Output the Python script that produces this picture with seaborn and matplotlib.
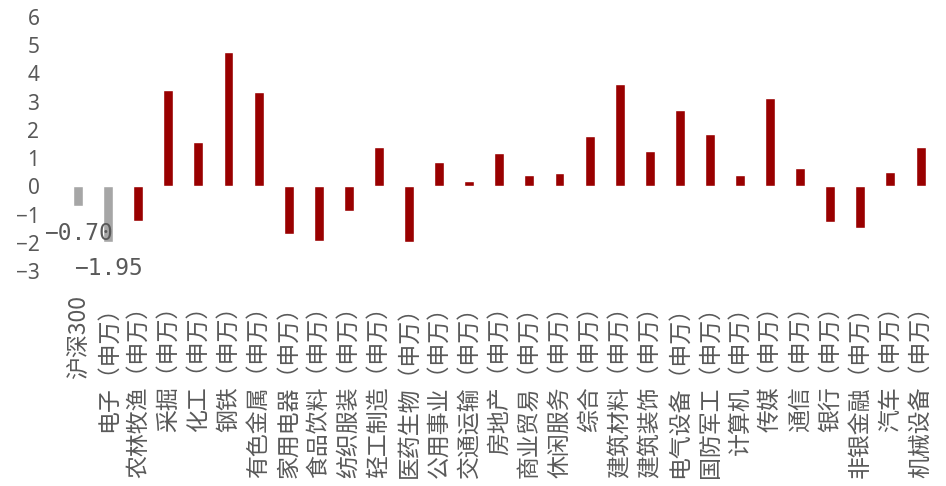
import matplotlib
matplotlib.use("Agg")
import matplotlib.pyplot as plt
import seaborn as sns
import pandas as pd

# Data
industries = ["沪深300", "电子（申万）", "农林牧渔（申万）", "采掘（申万）", "化工（申万）",
              "钢铁（申万）", "有色金属（申万）", "家用电器（申万）", "食品饮料（申万）",
              "纺织服装（申万）", "轻工制造（申万）", "医药生物（申万）", "公用事业（申万）",
              "交通运输（申万）", "房地产（申万）", "商业贸易（申万）", "休闲服务（申万）",
              "综合（申万）", "建筑材料（申万）", "建筑装饰（申万）", "电气设备（申万）",
              "国防军工（申万）", "计算机（申万）", "传媒（申万）", "通信（申万）",
              "银行（申万）", "非银金融（申万）", "汽车（申万）", "机械设备（申万）"]
values = [-0.70, -1.95, -1.23, 3.43, 1.59, 4.77, 3.36, -1.70, -1.93, -0.88,
          1.38, -1.98, 0.85, 0.21, 1.20, 0.42, 0.46, 1.77, 3.64, 1.24,
          2.72, 1.84, 0.39, 3.14, 0.64, -1.27, -1.48, 0.50, 1.41]
labelled = [-0.70, -1.95]

data = pd.DataFrame({"industry": industries, "value": values})

sns.set_theme(style="white")
plt.rcParams["font.family"] = ["Noto Sans CJK SC", "DejaVu Sans"]

grey_text = "#595959"
colors = ["#A6A6A6", "#A6A6A6"] + ["#990000"] * (len(industries) - 2)

fig = plt.figure(figsize=(9.46, 4.86), dpi=100)
ax = fig.add_axes([0.0666, 0.442, 0.9224, 0.523])

sns.barplot(data=data, x="industry", y="value", hue="industry",
            palette=colors, legend=False, width=0.33, saturation=1, ax=ax)

# value labels for the two grey bars
for i, v in enumerate(labelled):
    ax.text(i, v - 0.95, f"{v:.2f}".replace("-", "\u2212"), ha="center", va="center",
            fontsize=16.5, color=grey_text, family="DejaVu Sans Mono")

ax.set_ylim(-3, 6)
ax.set_xlim(-0.5, len(industries) - 0.5)
ax.set_yticks(range(-3, 7))
ax.set_xlabel("")
ax.set_ylabel("")
ax.tick_params(axis="y", labelsize=15, labelcolor=grey_text, length=0, pad=17)
ax.tick_params(axis="x", labelsize=16.5, labelcolor=grey_text, length=0, pad=17)
plt.setp(ax.get_yticklabels(), family="Noto Sans")
plt.setp(ax.get_xticklabels(), rotation=90, ha="center", va="top")
sns.despine(ax=ax, left=True, bottom=True)

fig.savefig("out.png", dpi=100)
